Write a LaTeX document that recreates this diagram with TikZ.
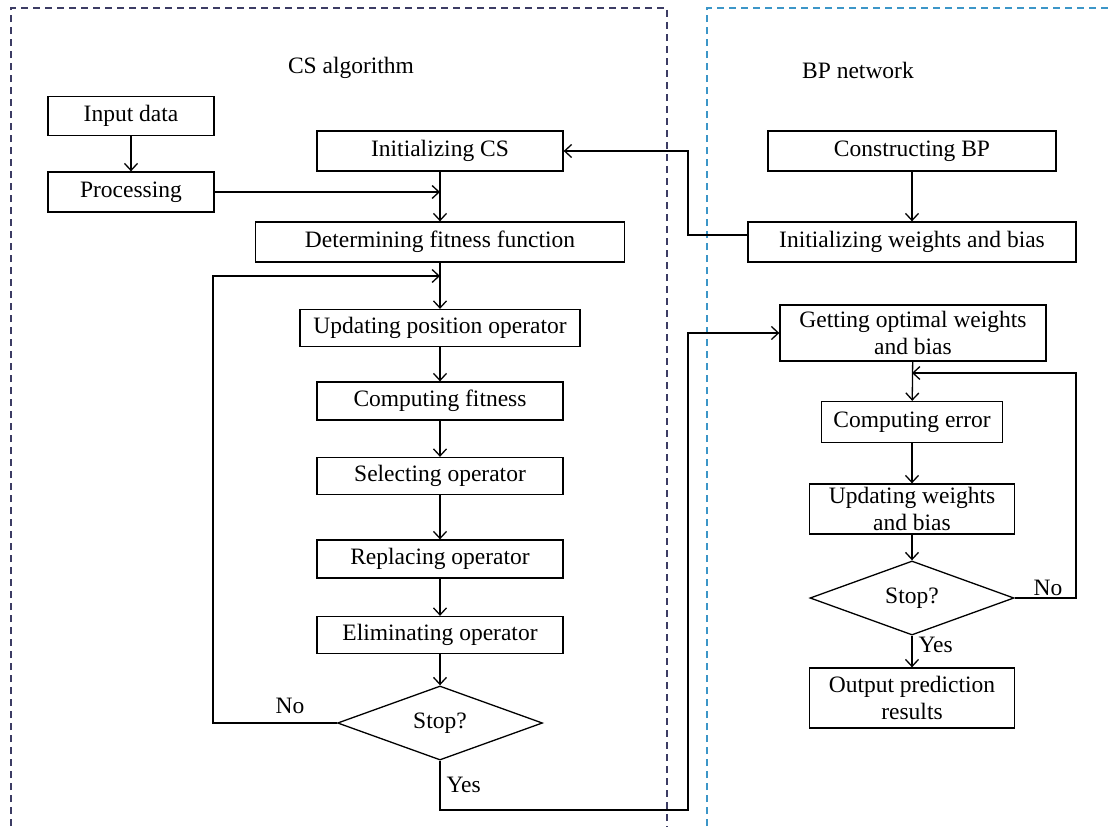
\documentclass[tikz,border=0pt]{standalone}
\usepackage{fontspec}
\setmainfont{Liberation Serif}
\usetikzlibrary{shapes.geometric,arrows.meta,calc}
\definecolor{csframe}{RGB}{60,60,100}
\definecolor{bpframe}{RGB}{60,150,200}
\tikzset{
  every node/.style={font=\fontsize{23.5}{27}\selectfont},
  box/.style={draw,line width=1.3pt,inner sep=0pt,align=center},
  dec/.style={draw,line width=1.3pt,diamond,inner sep=0pt},
  arr/.style={line width=1.3pt,-{Straight Barb[length=7pt,width=13pt,line width=1.3pt]}},
  frame/.style={line width=1.2pt,dash pattern=on 7pt off 5pt}
}
\begin{document}
\begin{tikzpicture}[x=1pt,y=-1pt]
\useasboundingbox (0,0) rectangle (1109,827);
\clip (0,0) rectangle (1109,827);
\fill[white] (0,0) rectangle (1109,827);
% frames
\draw[frame,csframe] (11,850) -- (11,8) -- (667,8) -- (667,850);
\draw[frame,bpframe] (707,850) -- (707,8) -- (1130,8);
% titles
\node (t1) at (351,68) {CS algorithm};
\node (t2) at (858,70) {BP network};
% left column
\node[box,minimum width=166pt,minimum height=39pt] (in) at (131,116) {Input data};
\node[box,minimum width=166pt,minimum height=40pt] (proc) at (131,192) {Processing};
\node[box,minimum width=246pt,minimum height=40pt] (initcs) at (440,151) {Initializing CS};
\node[box,minimum width=369pt,minimum height=40pt] (fit) at (440,242) {Determining fitness function};
\node[box,minimum width=280pt,minimum height=37pt] (upd) at (440,328) {Updating position operator};
\node[box,minimum width=246pt,minimum height=38pt] (comp) at (440,401) {Computing fitness};
\node[box,minimum width=246pt,minimum height=37pt] (sel) at (440,476) {Selecting operator};
\node[box,minimum width=246pt,minimum height=38pt] (rep) at (440,559) {Replacing operator};
\node[box,minimum width=246pt,minimum height=37pt] (elim) at (440,635) {Eliminating operator};
\node[dec,minimum width=205pt,minimum height=60pt] (stop1) at (440,723) {Stop?};
% right column
\node[box,minimum width=288pt,minimum height=40pt] (cbp) at (912,151) {Constructing BP};
\node[box,minimum width=328pt,minimum height=40pt] (iwb) at (912,242) {Initializing weights and bias};
\node[box,minimum width=266pt,minimum height=56pt] (gow) at (913,333) {Getting optimal weights\\and bias};
\node[box,minimum width=181pt,minimum height=41pt] (cerr) at (912,422) {Computing error};
\node[box,minimum width=205pt,minimum height=50pt] (uwb) at (912,509) {Updating weights\\and bias};
\node[dec,minimum width=204pt,minimum height=60pt] (stop2) at (912,598) {Stop?};
\node[box,minimum width=205pt,minimum height=60pt] (out) at (912,698) {Output prediction\\results};
% labels
\node (no1) at (290,706) {No};
\node[anchor=west] (yes1) at (443,785) {Yes};
\node (no2) at (1048,588) {No};
\node[anchor=west] (yes2) at (915,645) {Yes};
% coordinates
\coordinate (l1) at (213,276);
\coordinate (y1) at (688,810);
\coordinate (j1) at (688,151);
\coordinate (r1) at (1076,373);
% left connectors
\draw[arr] (in) -- (proc);
\draw[arr] (proc.east) -- (proc.east -| initcs.south);
\draw[arr] (initcs) -- (fit);
\draw[arr] (fit) -- (upd);
\draw[arr] (upd) -- (comp);
\draw[arr] (comp) -- (sel);
\draw[arr] (sel) -- (rep);
\draw[arr] (rep) -- (elim);
\draw[arr] (elim) -- (stop1);
\draw[arr] (stop1.west) -| (l1) -- (l1 -| upd.north);
\draw[arr] (stop1.south) |- (y1) |- (gow.west);
% right connectors
\draw[arr] (cbp) -- (iwb);
\draw[arr] ($(iwb.west)+(0,-7)$) -| (j1) -- (initcs.east);
\draw[arr] (gow) -- (cerr);
\draw[arr] (cerr) -- (uwb);
\draw[arr] (uwb) -- (stop2);
\draw[arr] (stop2) -- (out);
\draw[arr] (stop2.east) -| (r1) -- (r1 -| cerr.north);
\end{tikzpicture}
\end{document}
